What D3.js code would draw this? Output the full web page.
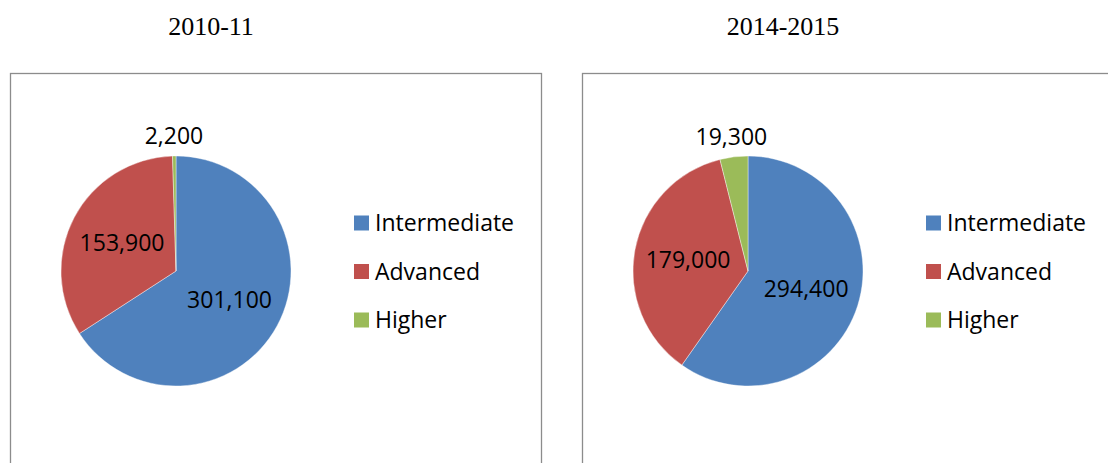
<!DOCTYPE html>
<html lang="en">
<head>
    <meta charset="UTF-8">
    <title>Enrolment 2010-11 vs 2014-2015</title>
    <script src="https://d3js.org/d3.v7.min.js"></script>
    <style>
        body { margin: 0; background: #fff; }
        .title { font-family: "Liberation Serif", "Times New Roman", serif; font-size: 26px; fill: #000; }
        .lbl, .legend text { font-family: "Open Sans", sans-serif; font-size: 23px; fill: #000; }
        .frame { fill: #fff; stroke: #8c8c8c; stroke-width: 1.3px; }
    </style>
</head>
<body>
<script>
    var width = 1108, height = 463;

    // data
    var categories = ["Intermediate", "Advanced", "Higher"];
    var years = ["2010-11", "2014-2015"];
    var values2010 = [301100, 153900, 2200];
    var values2014 = [294400, 179000, 19300];
    var colorList = ["#4F81BD", "#C0504D", "#9BBB59"];

    var seriesList = [values2010, values2014];

    var colors = d3.scaleOrdinal().domain(categories).range(colorList);
    var fmt = d3.format(",");

    var svg = d3.select("body").append("svg")
        .attr("width", width)
        .attr("height", height);

    // panel placement
    var panelX = d3.scaleOrdinal().domain(years).range([10, 582]);
    var panelW = 531, panelTop = 73;
    var radius = 115;

    var pie = d3.pie().sort(null).value(function(d){ return d.value; });
    var arc = d3.arc().innerRadius(0).outerRadius(radius);
    var innerLabelArc = d3.arc().innerRadius(radius * 0.53).outerRadius(radius * 0.53);
    var outerLabelArc = d3.arc().innerRadius(radius + 20).outerRadius(radius + 20);

    years.forEach(function(year, i){
        var x0 = panelX(year);
        var g = svg.append("g").attr("transform", "translate(" + x0 + ",0)");

        g.append("text")
            .attr("class", "title")
            .attr("x", 201)
            .attr("y", 35)
            .attr("text-anchor", "middle")
            .text(year);

        g.append("rect")
            .attr("class", "frame")
            .attr("x", 0.5)
            .attr("y", panelTop + 0.5)
            .attr("width", panelW)
            .attr("height", 420);

        var rows = categories.map(function(c, k){
            return {cat: c, value: seriesList[i][k]};
        });
        var arcs = pie(rows);
        var total = d3.sum(rows, function(d){ return d.value; });

        var pg = g.append("g").attr("transform", "translate(166,271)");

        pg.selectAll("path")
            .data(arcs)
            .enter().append("path")
            .attr("d", arc)
            .attr("fill", function(d){ return colors(d.data.cat); })
            .attr("stroke", "#fff")
            .attr("stroke-width", 0.4);

        pg.selectAll("text.lbl")
            .data(arcs)
            .enter().append("text")
            .attr("class", "lbl")
            .attr("text-anchor", "middle")
            .attr("dy", "0.35em")
            .attr("transform", function(d){
                var small = d.data.value / total < 0.06;
                var c = small ? outerLabelArc.centroid(d) : innerLabelArc.centroid(d);
                return "translate(" + c[0] + "," + c[1] + ")";
            })
            .text(function(d){ return fmt(d.data.value); });

        var legend = g.append("g")
            .attr("class", "legend")
            .attr("transform", "translate(344,223)");

        var item = legend.selectAll("g")
            .data(categories)
            .enter().append("g")
            .attr("transform", function(d, k){ return "translate(0," + (k * 48.5) + ")"; });

        item.append("rect")
            .attr("x", 0)
            .attr("y", -7.5)
            .attr("width", 15)
            .attr("height", 15)
            .attr("fill", function(d){ return colors(d); });

        item.append("text")
            .attr("x", 21)
            .attr("dy", "0.36em")
            .text(function(d){ return d; });
    });
</script>
</body>
</html>
